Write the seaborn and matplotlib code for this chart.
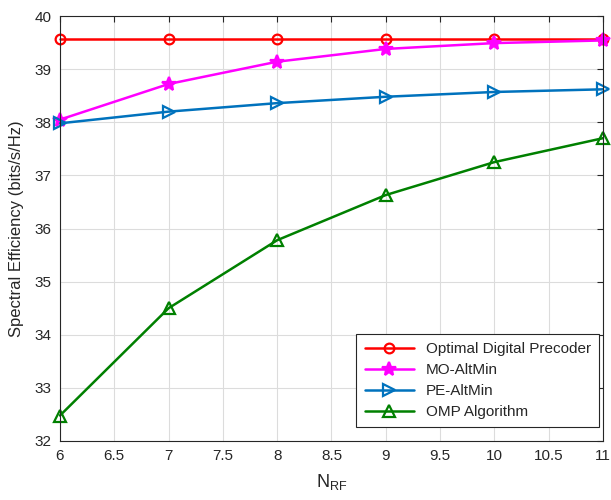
import matplotlib
matplotlib.use("Agg")
import matplotlib.pyplot as plt
import seaborn as sns
import pandas as pd

n_rf = [6, 7, 8, 9, 10, 11]
optimal = [39.56, 39.56, 39.56, 39.56, 39.56, 39.56]
mo_altmin = [38.05, 38.72, 39.14, 39.38, 39.49, 39.54]
pe_altmin = [37.98, 38.20, 38.36, 38.48, 38.57, 38.62]
omp = [32.48, 34.50, 35.78, 36.63, 37.25, 37.70]

series_names = ["Optimal Digital Precoder", "MO-AltMin", "PE-AltMin", "OMP Algorithm"]
series_values = [optimal, mo_altmin, pe_altmin, omp]
colors = ["#ff0000", "#ff00ff", "#0072bd", "#008000"]
markers = ["o", "*", ">", "^"]
msizes = [7, 10, 8, 8]
filled = [False, True, False, False]

sns.set_style("white")
plt.rcParams["font.family"] = ["Liberation Sans", "DejaVu Sans"]
plt.rcParams["mathtext.fontset"] = "custom"
plt.rcParams["mathtext.rm"] = "Liberation Sans"
plt.rcParams["mathtext.it"] = "Liberation Sans"

fig = plt.figure(figsize=(6.11, 5.0), dpi=100)
ax = fig.add_axes([60 / 611, 1 - 441 / 500, (603 - 60) / 611, (441 - 16) / 500])

for name, vals, c, m, ms, f in zip(series_names, series_values, colors, markers, msizes, filled):
    df = pd.DataFrame({"x": n_rf, "y": vals})
    sns.lineplot(data=df, x="x", y="y", ax=ax, color=c, marker=m, markersize=ms,
                 markerfacecolor=(c if f else "none"), markeredgecolor=c,
                 markeredgewidth=1.6, linewidth=1.8, label=name, clip_on=False)

ax.set_xlim(6, 11)
ax.set_ylim(32, 40)
ax.set_xticks([6, 6.5, 7, 7.5, 8, 8.5, 9, 9.5, 10, 10.5, 11])
ax.set_xticklabels(["6", "6.5", "7", "7.5", "8", "8.5", "9", "9.5", "10", "10.5", "11"])
ax.set_yticks(range(32, 41))
ax.grid(True, color="#dcdcdc", linewidth=0.8)
ax.set_axisbelow(True)
ax.tick_params(direction="in", length=4, labelsize=11, colors="#262626",
               top=True, right=True, pad=6)
for s in ax.spines.values():
    s.set_color("#262626")
    s.set_linewidth(0.8)

ax.set_xlabel(r"N$_{\mathrm{RF}}$", fontsize=13, color="#262626", labelpad=6)
ax.set_ylabel("Spectral Efficiency (bits/s/Hz)", fontsize=12, color="#262626", labelpad=8)

leg = ax.legend(loc="lower right", bbox_to_anchor=(607 / 611, (500 - 435) / 500),
                bbox_transform=fig.transFigure,
                frameon=True, fancybox=False, fontsize=11, handlelength=3.2,
                borderpad=0.55, labelspacing=0.45, edgecolor="#262626", framealpha=1)
leg.get_frame().set_linewidth(0.8)

fig.savefig("out.png", dpi=100)
